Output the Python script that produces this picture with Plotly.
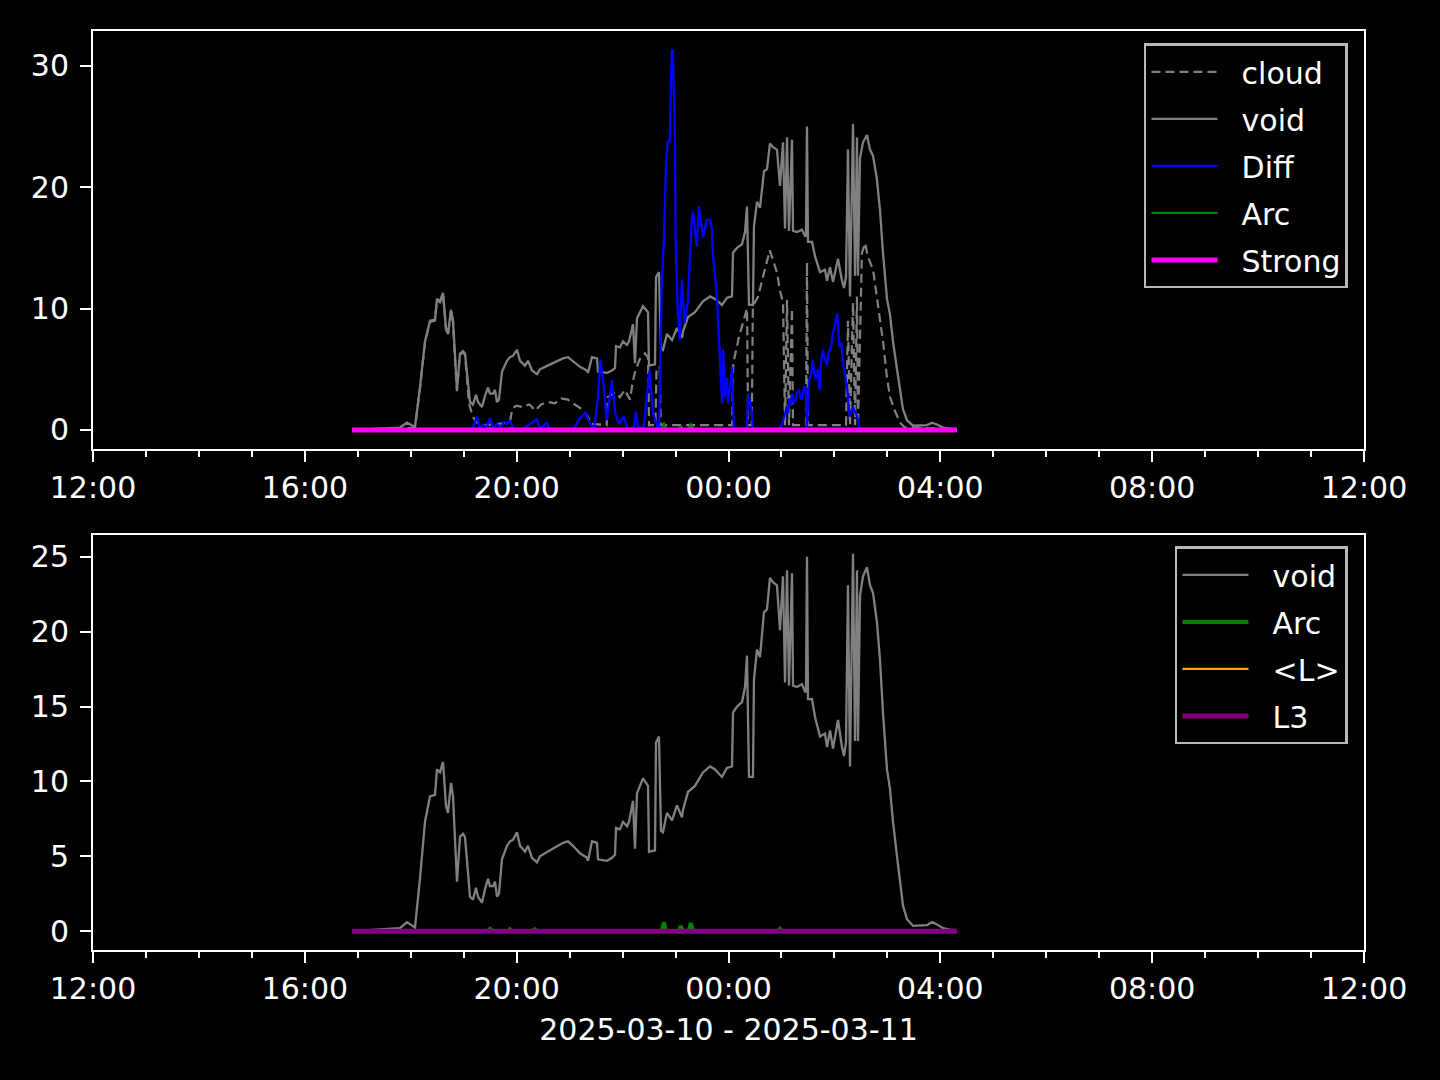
import pandas as pd
import plotly.graph_objects as go

BASE = pd.Timestamp("2025-03-10")
X_START_H, X_END_H = 12, 36
XLABEL = "2025-03-10 - 2025-03-11"

# hours since 2025-03-10 00:00
void_h = [16.890, 17.797, 17.929, 18.080, 18.174, 18.269, 18.363, 18.458, 18.495, 18.552,
          18.609, 18.665, 18.703, 18.760, 18.798, 18.835, 18.873, 18.930, 18.986, 19.024,
          19.062, 19.119, 19.175, 19.232, 19.270, 19.345, 19.402, 19.459, 19.496, 19.553,
          19.591, 19.628, 19.666, 19.723, 19.817, 19.874, 19.930, 20.006, 20.063, 20.157,
          20.214, 20.289, 20.384, 20.440, 20.535, 20.629, 20.761, 20.875, 20.969, 21.063,
          21.196, 21.328, 21.347, 21.422, 21.517, 21.536, 21.706, 21.800, 21.857, 21.876,
          21.951, 22.008, 22.083, 22.121, 22.197, 22.234, 22.272, 22.329, 22.385, 22.480,
          22.499, 22.612, 22.631, 22.687, 22.725, 22.763, 22.838, 22.933, 23.027, 23.122,
          23.141, 23.235, 23.367, 23.518, 23.651, 23.745, 23.877, 23.972, 24.066, 24.085,
          24.160, 24.255, 24.312, 24.349, 24.387, 24.462, 24.481, 24.538, 24.595, 24.670,
          24.727, 24.783, 24.840, 24.916, 24.972, 25.029, 25.067, 25.105, 25.142, 25.199,
          25.218, 25.293, 25.388, 25.444, 25.463, 25.482, 25.501, 25.577, 25.634, 25.728,
          25.822, 25.860, 25.917, 25.973, 26.068, 26.143, 26.181, 26.219, 26.256, 26.294,
          26.351, 26.389, 26.426, 26.445, 26.483, 26.540, 26.615, 26.672, 26.729, 26.804,
          26.861, 26.917, 26.993, 27.049, 27.106, 27.182, 27.238, 27.295, 27.371, 27.484,
          27.748, 27.842, 27.937, 28.050, 28.182, 28.314]
void_v = [0.0, 0.2, 0.6, 0.25, 3.5, 7.3, 9.0, 9.1, 10.8, 10.6,
          11.3, 8.4, 7.9, 9.9, 9.0, 5.9, 3.3, 6.3, 6.5, 6.3,
          4.6, 2.3, 2.1, 2.9, 2.3, 1.9, 2.8, 3.5, 3.0, 3.0,
          3.3, 2.3, 2.5, 4.8, 5.7, 6.0, 6.1, 6.6, 5.7, 5.3,
          5.7, 4.9, 4.6, 5.0, 5.2, 5.4, 5.7, 5.9, 6.0, 5.7,
          5.2, 4.9, 4.7, 6.0, 5.9, 4.8, 4.7, 4.9, 5.1, 6.9,
          6.8, 7.3, 7.0, 7.3, 8.7, 5.5, 9.2, 9.7, 10.2, 9.7,
          5.3, 5.4, 12.6, 13.0, 6.7, 6.6, 7.9, 7.4, 8.4, 7.6,
          8.1, 9.3, 9.7, 10.6, 11.0, 10.8, 10.3, 10.9, 11.0, 14.6,
          15.0, 15.3, 16.3, 18.4, 10.3, 10.3, 16.8, 18.8, 18.3, 21.3,
          21.5, 23.6, 23.3, 23.1, 20.1, 23.7, 16.6, 24.1, 16.4, 23.9,
          16.4, 16.3, 16.5, 16.0, 16.0, 25.0, 15.5, 15.5, 14.3, 13.0,
          13.2, 12.3, 13.4, 12.2, 14.1, 12.3, 11.7, 12.6, 23.1, 11.0,
          25.2, 12.7, 24.1, 12.7, 22.4, 23.7, 24.3, 23.1, 22.6, 20.6,
          18.1, 14.6, 10.8, 9.5, 7.3, 5.0, 3.3, 1.7, 0.8, 0.35,
          0.4, 0.6, 0.45, 0.2, 0.1, 0.05]

cloud_h = [16.890, 17.797, 18.080, 18.174, 18.269, 18.363, 18.458, 18.495, 18.552, 18.609,
           18.665, 18.703, 18.760, 18.798, 18.835, 18.873, 18.930, 18.986, 19.024, 19.062,
           19.100, 19.170, 19.250, 19.400, 19.600, 19.870, 19.920, 20.000, 20.100, 20.240,
           20.350, 20.460, 20.590, 20.720, 20.840, 20.970, 21.060, 21.200, 21.330, 21.420,
           21.700, 21.720, 21.860, 21.950, 22.040, 22.140, 22.190, 22.230, 22.320, 22.420,
           22.480, 22.500, 22.620, 22.640, 22.700, 22.720, 24.070, 24.090, 24.200, 24.310,
           24.350, 24.370, 24.440, 24.460, 24.560, 24.650, 24.780, 24.840, 24.920, 24.970,
           25.030, 25.067, 25.105, 25.142, 25.199, 25.218, 25.463, 25.482, 25.501, 26.200,
           26.219, 26.256, 26.294, 26.351, 26.389, 26.426, 26.445, 26.520, 26.580, 26.630,
           26.730, 26.800, 26.860, 26.920, 26.990, 27.050, 27.140, 27.240, 27.330, 28.314]
cloud_v = [0.0, 0.1, 0.2, 3.4, 7.2, 8.9, 9.0, 10.7, 10.5, 11.2,
           8.3, 7.8, 9.8, 8.9, 5.8, 3.2, 6.2, 6.4, 6.2, 4.5,
           2.2, 1.1, 0.6, 0.4, 0.5, 0.6, 1.8, 2.0, 1.9, 2.1,
           1.6, 2.1, 2.3, 2.2, 2.6, 2.5, 2.2, 1.8, 1.2, 0.5,
           0.4, 2.7, 3.1, 2.7, 3.3, 2.5, 3.9, 4.7, 5.8, 6.3,
           6.0, 0.4, 0.4, 5.0, 5.2, 0.4, 0.4, 5.5, 7.7, 9.3,
           10.0, 0.4, 0.4, 10.2, 11.0, 12.6, 14.8, 14.0, 12.9, 11.5,
           10.5, 0.4, 10.7, 0.4, 10.0, 0.4, 0.4, 13.8, 0.4, 0.4,
           0.4, 9.0, 0.4, 10.5, 0.4, 11.0, 0.4, 14.6, 15.4, 14.3,
           13.2, 11.0, 9.3, 7.2, 4.4, 2.7, 1.6, 0.6, 0.2, 0.1]

diff_h = [16.890, 19.150, 19.210, 19.250, 19.300, 19.360, 19.440, 19.500, 19.550, 19.630,
          19.700, 19.760, 19.820, 19.870, 19.930, 20.100, 20.380, 20.440, 20.570, 20.630,
          21.060, 21.200, 21.300, 21.370, 21.460, 21.530, 21.580, 21.630, 21.700, 21.800,
          21.860, 21.930, 22.020, 22.100, 22.220, 22.250, 22.300, 22.400, 22.510, 22.570,
          22.660, 22.690, 22.740, 22.780, 22.820, 22.850, 22.890, 22.930, 22.950, 22.990,
          23.000, 23.040, 23.080, 23.120, 23.140, 23.170, 23.230, 23.310, 23.330, 23.400,
          23.440, 23.520, 23.590, 23.650, 23.690, 23.700, 23.780, 23.840, 23.880, 23.900,
          23.930, 23.970, 23.990, 24.070, 24.100, 24.350, 24.370, 24.440, 24.460, 24.970,
          25.020, 25.060, 25.100, 25.130, 25.150, 25.180, 25.200, 25.230, 25.260, 25.300,
          25.330, 25.370, 25.400, 25.430, 25.460, 25.480, 25.520, 25.560, 25.590, 25.620,
          25.650, 25.690, 25.720, 25.750, 25.780, 25.820, 25.860, 25.890, 25.920, 25.950,
          25.970, 26.010, 26.050, 26.100, 26.130, 26.160, 26.200, 26.240, 26.290, 26.350,
          26.430, 26.480, 28.314]
diff_v = [0.0, 0.0, 0.6, 1.1, 0.2, 0.4, 0.3, 1.0, 0.1, 0.5,
          0.2, 0.7, 0.5, 0.8, 0.1, 0.0, 0.9, 0.1, 0.6, 0.0,
          0.0, 1.0, 1.4, 0.7, 0.0, 2.5, 5.8, 4.2, 0.8, 4.1,
          1.4, 0.5, 1.1, 0.0, 0.3, 1.5, 0.0, 0.3, 4.9, 1.5,
          0.2, 0.0, 12.1, 15.7, 21.7, 23.7, 23.8, 31.3, 31.3, 23.7,
          15.7, 10.0, 7.4, 12.4, 10.9, 8.8, 10.5, 17.6, 18.0, 15.1,
          18.4, 15.9, 17.3, 17.3, 16.5, 14.8, 11.0, 5.5, 2.2, 6.6,
          2.7, 4.3, 2.2, 5.2, 0.1, 0.1, 3.0, 1.5, 0.0, 0.1,
          0.6, 1.2, 1.9, 1.4, 2.6, 2.0, 3.0, 2.3, 2.4, 3.1,
          3.3, 2.5, 2.8, 3.6, 3.4, 0.0, 4.0, 4.7, 5.8, 4.6,
          4.2, 5.0, 3.3, 5.6, 6.6, 5.9, 5.3, 6.4, 6.6, 7.2,
          8.0, 8.6, 9.6, 6.8, 7.2, 5.5, 4.6, 3.3, 1.1, 1.9,
          1.1, 0.0, 0.0]

arc_h = [16.890, 19.450, 19.500, 19.550, 19.840, 19.870, 19.910, 20.300, 20.340, 20.380,
         22.740, 22.780, 22.820, 23.060, 23.100, 23.140, 23.250, 23.290, 23.330, 24.930,
         24.970, 25.010, 28.314]
arc_v = [0.0, 0.0, 0.15, 0.0, 0.0, 0.12, 0.0, 0.0, 0.12, 0.0,
         0.0, 0.6, 0.0, 0.0, 0.35, 0.0, 0.0, 0.55, 0.0, 0.0,
         0.15, 0.0, 0.0]

flat_h = [16.890, 28.314]
strong_v = [0.0, 0.0]
lavg_v = [0.0, 0.0]
l3_v = [0.0, 0.0]


def ts(hours):
    return [BASE + pd.Timedelta(hours=h) for h in hours]


FONT = "DejaVu Sans"
FS = 30
PAD = "\u00a0\u00a0"
fig = go.Figure()

# top panel
fig.add_trace(go.Scatter(x=ts(cloud_h), y=cloud_v, name=PAD + "cloud", mode="lines",
                         line=dict(color="#808080", width=2.2, dash="9px,5px"),
                         xaxis="x", yaxis="y", legend="legend", legendgroup="a"))
fig.add_trace(go.Scatter(x=ts(void_h), y=void_v, name=PAD + "void", mode="lines",
                         line=dict(color="#808080", width=2.3),
                         xaxis="x", yaxis="y", legend="legend", legendgroup="b"))
fig.add_trace(go.Scatter(x=ts(diff_h), y=diff_v, name=PAD + "Diff", mode="lines",
                         line=dict(color="#0000ff", width=2.3),
                         xaxis="x", yaxis="y", legend="legend", legendgroup="c"))
fig.add_trace(go.Scatter(x=ts(arc_h), y=arc_v, name=PAD + "Arc", mode="lines",
                         line=dict(color="#008000", width=2.3),
                         xaxis="x", yaxis="y", legend="legend", legendgroup="d"))
fig.add_trace(go.Scatter(x=ts(flat_h), y=strong_v, name=PAD + "Strong", mode="lines",
                         line=dict(color="#ff00ff", width=5),
                         xaxis="x", yaxis="y", legend="legend", legendgroup="e"))

# bottom panel
fig.add_trace(go.Scatter(x=ts(void_h), y=void_v, name=PAD + "void", mode="lines",
                         line=dict(color="#808080", width=2.3),
                         xaxis="x2", yaxis="y2", legend="legend2", legendgroup="f"))
fig.add_trace(go.Scatter(x=ts(arc_h), y=arc_v, name=PAD + "Arc", mode="lines",
                         line=dict(color="#008000", width=4),
                         xaxis="x2", yaxis="y2", legend="legend2", legendgroup="g"))
fig.add_trace(go.Scatter(x=ts(flat_h), y=lavg_v, name=PAD + "<L>", mode="lines",
                         line=dict(color="#ffa500", width=2.3),
                         xaxis="x2", yaxis="y2", legend="legend2", legendgroup="h"))
fig.add_trace(go.Scatter(x=ts(flat_h), y=l3_v, name=PAD + "L3", mode="lines",
                         line=dict(color="#800080", width=5),
                         xaxis="x2", yaxis="y2", legend="legend2", legendgroup="i"))

axis_common = dict(showline=True, linecolor="white", linewidth=2, mirror=True,
                   ticks="outside", ticklen=11, tickwidth=2, tickcolor="white",
                   showgrid=False, zeroline=False,
                   tickfont=dict(color="white", size=FS, family=FONT))
x_range = [BASE + pd.Timedelta(hours=X_START_H), BASE + pd.Timedelta(hours=X_END_H)]
x_common = dict(type="date", range=x_range, tickformat="%H:%M",
                dtick=4 * 3600 * 1000, tick0=x_range[0],
                minor=dict(dtick=3600 * 1000, ticks="outside", ticklen=6,
                           tickwidth=1.5, tickcolor="white", showgrid=False),
                **axis_common)

legend_common = dict(bgcolor="black", bordercolor="#b8b8b8", borderwidth=2.5,
                     font=dict(color="white", size=FS, family=FONT),
                     xanchor="right", yanchor="top", tracegroupgap=5,
                     traceorder="grouped", itemwidth=66)

fig.update_layout(
    width=1440, height=1080, autosize=False,
    paper_bgcolor="black", plot_bgcolor="black",
    margin=dict(l=93, r=76, t=31, b=130),
    font=dict(family=FONT, size=FS, color="white"),
    showlegend=True,
    xaxis=dict(anchor="y", domain=[0, 1], **x_common),
    xaxis2=dict(anchor="y2", domain=[0, 1],
                title=dict(text=XLABEL, font=dict(size=FS, color="white", family=FONT),
                           standoff=14),
                **x_common),
    yaxis=dict(anchor="x", domain=[0.5452, 1], range=[-1.565, 32.87],
               tickvals=[0, 10, 20, 30], ticklabelstandoff=5, **axis_common),
    yaxis2=dict(anchor="x2", domain=[0, 0.4516], range=[-1.26, 26.46],
                tickvals=[0, 5, 10, 15, 20, 25], ticklabelstandoff=5, **axis_common),
    legend=dict(x=0.9874, y=0.9865, **legend_common),
    legend2=dict(x=0.9874, y=0.4392, **legend_common),
)

fig.write_html("out.html", config={"displayModeBar": False},
               post_script="document.body.style.margin='0';document.body.style.background='black';")
